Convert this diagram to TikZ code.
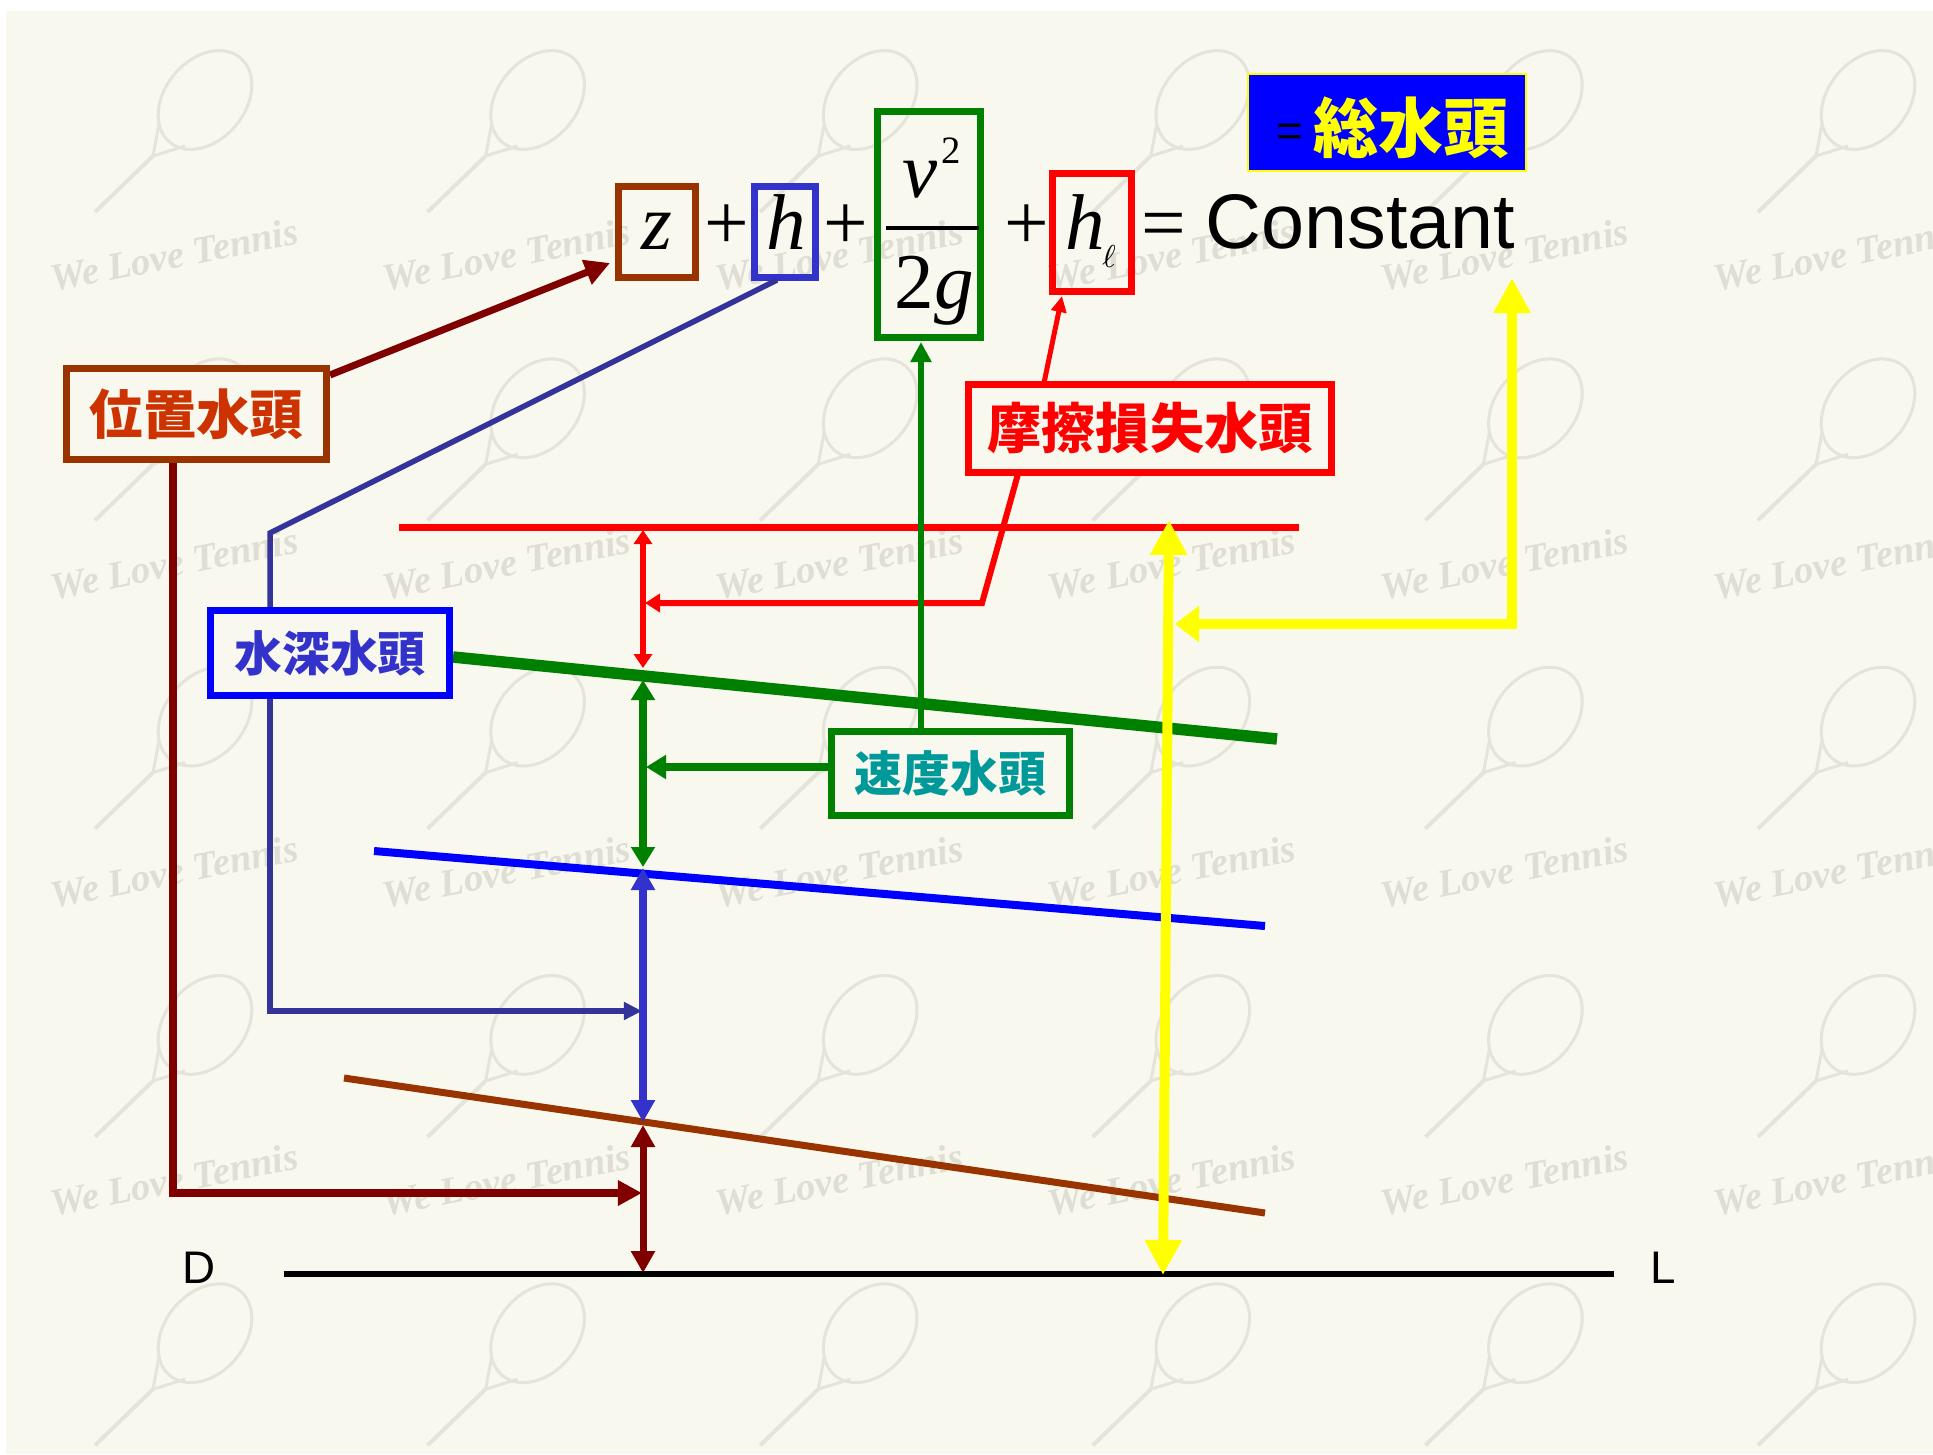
\documentclass[tikz,border=0pt]{standalone}
\usepackage{fontspec}
\usetikzlibrary{arrows.meta,calc}
\newfontfamily\cjk{Noto Sans CJK JP}
\newfontfamily\lsans{Liberation Sans}
\newfontfamily\tms{Liberation Serif}
\definecolor{bg}{RGB}{248,248,238}
\definecolor{wmc}{RGB}{228,228,218}
\definecolor{wmt}{RGB}{222,222,212}
\definecolor{brn}{HTML}{993300}
\definecolor{brt}{HTML}{CC3300}
\definecolor{dred}{HTML}{800000}
\definecolor{bbox}{HTML}{3333CC}
\definecolor{bcon}{HTML}{333399}
\definecolor{bpure}{HTML}{0000FF}
\definecolor{grn}{HTML}{008000}
\definecolor{tealt}{HTML}{009999}
\definecolor{redd}{HTML}{FF0000}
\definecolor{yel}{HTML}{FFFF00}
\begin{document}
\begin{tikzpicture}[x=0.01cm,y=-0.01cm,
  lbl/.style={draw, line width=0.07cm, fill=bg, inner sep=0pt},
  eqbox/.style={draw, line width=0.075cm, inner sep=0pt},
  mth/.style={inner sep=0pt, anchor=base, font=\tms\fontsize{22.5}{27}\selectfont},
  wm/.style={draw=wmc, line width=0.03cm},
  cjkb/.style={font=\cjk\bfseries\fontsize{#1}{#1}\selectfont},
  sansl/.style={inner sep=0pt, font=\lsans\fontsize{13}{15}\selectfont}
]
\useasboundingbox (0,0) rectangle (1933,1454);
\fill[white] (0,0) rectangle (1933,1454);
\fill[bg] (6,11) rectangle (1933,1454);
% watermark (background texture)
\begin{scope}
\clip (6,11) rectangle (1933,1454);
\foreach \i in {0,...,5}{\foreach \j in {0,...,4}{
  \pgfmathsetmacro\cx{205+332.6*\i}
  \pgfmathsetmacro\cy{100+308.3*\j}
  \draw[wm, rotate around={50:(\cx,\cy)}] (\cx,\cy) ellipse [x radius=0.55cm, y radius=0.4cm];
  \draw[wm] (\cx-46,\cy+24) -- (\cx-52,\cy+56) -- (\cx-20,\cy+46);
  \draw[wm, line width=0.04cm] (\cx-52,\cy+56) -- (\cx-110,\cy+112);
}}
\foreach \i in {0,...,5}{\foreach \j in {0,...,3}{
  \pgfmathsetmacro\tx{174+332.6*\i}
  \pgfmathsetmacro\ty{255+308.3*\j}
  \node[rotate=11, text=wmt, inner sep=0pt, font=\tms\itshape\bfseries\fontsize{11}{13}\selectfont] at (\tx,\ty) {We Love Tennis};
}}
\end{scope}
% main lines
\coordinate (elL) at (399,527); \coordinate (elR) at (1299,527);
\coordinate (hgL) at (453,657); \coordinate (hgR) at (1277,739);
\coordinate (blL) at (374,851); \coordinate (blR) at (1265,926);
\coordinate (brL) at (344,1078); \coordinate (brR) at (1265,1213);
\coordinate (dtL) at (284,1274); \coordinate (dtR) at (1614,1274);
\draw[black, line width=0.06cm] (dtL) -- (dtR);
\draw[brn, line width=0.07cm] (brL) -- (brR);
\draw[bpure, line width=0.08cm] (blL) -- (blR);
\draw[grn, line width=0.115cm] (hgL) -- (hgR);
\draw[redd, line width=0.07cm] (elL) -- (elR);
% vertical head arrows
\coordinate (r1) at (643,530); \coordinate (r2) at (643,668);
\coordinate (g1) at (643,680); \coordinate (g2) at (643,867);
\coordinate (b1) at (643,868); \coordinate (b2) at (643,1122);
\coordinate (d1) at (643,1125); \coordinate (d2) at (643,1273);
\draw[redd, line width=0.06cm, {Triangle[length=0.14cm,width=0.18cm]}-{Triangle[length=0.14cm,width=0.18cm]}] (r1) -- (r2);
\draw[grn, line width=0.075cm, {Triangle[length=0.2cm,width=0.23cm]}-{Triangle[length=0.2cm,width=0.23cm]}] (g1) -- (g2);
\draw[bbox, line width=0.075cm, {Triangle[length=0.22cm,width=0.23cm]}-{Triangle[length=0.22cm,width=0.23cm]}] (b1) -- (b2);
\draw[dred, line width=0.07cm, {Triangle[length=0.22cm,width=0.23cm]}-{Triangle[length=0.22cm,width=0.23cm]}] (d1) -- (d2);
% equation boxes
\node[eqbox, draw=brn, minimum width=0.77cm, minimum height=0.91cm] (zb) at (657,232) {};
\node[eqbox, draw=bbox, minimum width=0.61cm, minimum height=0.91cm] (hb) at (785,232) {};
\node[eqbox, draw=grn, minimum width=1.03cm, minimum height=2.26cm] (fb) at (929,224.5) {};
\node[eqbox, draw=redd, minimum width=0.79cm, minimum height=1.18cm] (lb) at (1092,232.5) {};
% equation glyphs
\node[mth] (zg) at (657,249) {\itshape z};
\node[mth] (p1) at (727,249) {+};
\node[mth] (hg) at (786,249) {\itshape h};
\node[mth] (p2) at (846,249) {+};
\node[mth] (vg) at (920,197) {\itshape v};
\node[mth, font=\tms\fontsize{11}{13}\selectfont] (sq) at (951,163) {2};
\coordinate (fr1) at (886,228); \coordinate (fr2) at (979,228);
\draw[line width=0.04cm] (fr1) -- (fr2);
\node[mth] (tg) at (934,308) {2\itshape g};
\node[mth] (p3) at (1027,249) {+};
\node[mth] (hl) at (1085,249) {\itshape h};
\node[mth, font=\fontsize{9}{10}\selectfont] (ell) at (1109,267) {$\ell$};
\node[mth] (eq) at (1164,249) {=};
\node[inner sep=0pt, anchor=base west, font=\lsans\fontsize{22}{26}\selectfont] (cst) at (1205,248) {Constant};
% total head box
\node[draw=yel, line width=0.02cm, fill=bpure, minimum width=2.78cm, minimum height=0.97cm, inner sep=0pt] (tb) at (1387,122.5) {};
\node[inner sep=0pt, font=\lsans\fontsize{13}{15}\selectfont] (teq) at (1290,135) {=};
\node[inner sep=0pt, cjkb=18.5, text=yel] (ttx) at (1411,127.5) {総水頭};
% D and L
\node[sansl] (dl) at (199,1268) {D};
\node[sansl] (ll) at (1663,1268) {L};
% connector points
\coordinate (wzA) at (330,375); \coordinate (zT) at (610,263);
\coordinate (wzB) at (173,461); \coordinate (wzC) at (173,1193); \coordinate (wzT) at (642,1193);
\coordinate (hbB) at (777,280); \coordinate (hbK) at (270,533); \coordinate (ssT) at (270,609);
\coordinate (ssB) at (270,697); \coordinate (ssC) at (270,1011); \coordinate (ssT2) at (642,1011);
\coordinate (msT) at (1044,383); \coordinate (lbT) at (1062,296);
\coordinate (msB) at (1018,474); \coordinate (msK) at (982,603); \coordinate (msT2) at (645,603);
\coordinate (sdT) at (921,730); \coordinate (fbT) at (921,342);
\coordinate (sdL) at (830,767); \coordinate (sdT2) at (646,767);
\coordinate (y1) at (1169,520); \coordinate (y2) at (1163,1275);
\coordinate (y3) at (1512,278); \coordinate (y4) at (1512,624); \coordinate (y5) at (1175,624);
% connectors
\draw[dred, line width=0.07cm, -{Triangle[length=0.25cm,width=0.25cm]}] (wzA) -- (zT);
\draw[dred, line width=0.075cm, -{Triangle[length=0.24cm,width=0.24cm]}] (wzB) -- (wzC) -- (wzT);
\draw[bcon, line width=0.055cm] (hbB) -- (hbK) -- (ssT);
\draw[bcon, line width=0.055cm, -{Triangle[length=0.18cm,width=0.17cm]}] (ssB) -- (ssC) -- (ssT2);
\draw[redd, line width=0.05cm, -{Triangle[length=0.16cm,width=0.15cm]}] (msT) -- (lbT);
\draw[redd, line width=0.06cm, -{Triangle[length=0.15cm,width=0.18cm]}] (msB) -- (msK) -- (msT2);
\draw[grn, line width=0.065cm, -{Triangle[length=0.2cm,width=0.2cm]}] (sdT) -- (fbT);
\draw[grn, line width=0.075cm, -{Triangle[length=0.2cm,width=0.23cm]}] (sdL) -- (sdT2);
\draw[yel, line width=0.1cm, {Triangle[length=0.35cm,width=0.35cm]}-{Triangle[length=0.35cm,width=0.35cm]}] (y1) -- (y2);
\draw[yel, line width=0.1cm, {Triangle[length=0.35cm,width=0.35cm]}-{Triangle[length=0.24cm,width=0.35cm]}] (y3) -- (y4) -- (y5);
% label boxes
\node[lbl, draw=brn, minimum width=2.6cm, minimum height=0.91cm, text=brt, cjkb=15.2] (wz) at (196.5,414) {位置水頭};
\node[lbl, draw=bpure, minimum width=2.39cm, minimum height=0.85cm, text=bbox, cjkb=13.6] (ss) at (330,653) {水深水頭};
\node[lbl, draw=redd, minimum width=3.63cm, minimum height=0.88cm, text=redd, cjkb=15.4] (ms) at (1150,428.5) {摩擦損失水頭};
\node[lbl, draw=grn, minimum width=2.38cm, minimum height=0.84cm, text=tealt, cjkb=13.6] (sd) at (950.5,773.5) {速度水頭};
\end{tikzpicture}
\end{document}
